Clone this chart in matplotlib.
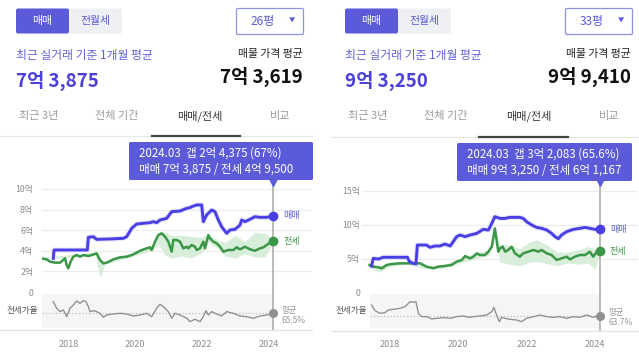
import matplotlib
matplotlib.use('Agg')
import matplotlib.pyplot as plt
import matplotlib.transforms as mtransforms
from matplotlib.patches import FancyBboxPatch

plt.rcParams['font.family'] = ['Noto Sans CJK KR', 'DejaVu Sans']

W, H = 639, 355

# ---------------- Left panel data (26평) ----------------
L_area = '26평'
L_recent = '7억 3,875'
L_listing = '7억 3,619'
L_tip1 = '2024.03  갭 2억 4,375 (67%)'
L_tip2 = '매매 7억 3,875 / 전세 4억 9,500'
L_avg_ratio = 65.5
L_current = 2024.15

L_sale_years = [2017.55, 2017.57, 2018.57, 2018.60, 2018.75, 2018.85, 2019.25, 2019.65, 2019.75, 2019.90,
                2020.05, 2020.25, 2020.45, 2020.55, 2020.65, 2020.75, 2020.95, 2021.10, 2021.35, 2021.55,
                2021.65, 2021.70, 2021.85, 2022.00, 2022.05, 2022.15, 2022.30, 2022.40, 2022.50, 2022.60,
                2022.75, 2022.85, 2023.00, 2023.15, 2023.20, 2023.30, 2023.45, 2023.60, 2023.75, 2023.95, 2024.15]
L_sale = [3.27, 4.08, 4.08, 5.31, 5.37, 5.11, 5.15, 5.21, 5.37, 6.18,
          6.60, 6.67, 6.73, 6.83, 6.73, 6.99, 7.15, 7.80, 7.86, 8.12,
          8.19, 8.28, 8.45, 8.45, 6.83, 7.48, 7.96, 7.80, 6.99, 6.34,
          5.70, 6.02, 6.08, 6.50, 6.99, 6.83, 7.06, 7.31, 7.25, 7.25, 7.3875]

L_rent_years = [2017.20, 2017.35, 2017.45, 2017.60, 2017.75, 2017.85, 2017.90, 2017.95, 2018.00, 2018.07,
                2018.15, 2018.25, 2018.35, 2018.45, 2018.60, 2018.70, 2018.85, 2018.95, 2019.05, 2019.15,
                2019.35, 2019.55, 2019.75, 2019.90, 2020.05, 2020.15, 2020.35, 2020.45, 2020.50, 2020.60,
                2020.70, 2020.80, 2020.90, 2021.00, 2021.10, 2021.15, 2021.25, 2021.35, 2021.45, 2021.55,
                2021.60, 2021.70, 2021.80, 2021.85, 2021.95, 2022.05, 2022.10, 2022.20, 2022.25, 2022.35,
                2022.45, 2022.55, 2022.65, 2022.80, 2022.95, 2023.05, 2023.15, 2023.30, 2023.45, 2023.60,
                2023.75, 2023.85, 2023.95, 2024.05, 2024.15]
L_rent = [3.27, 3.17, 2.95, 2.85, 2.85, 3.11, 3.27, 2.62, 2.30, 2.95,
          3.43, 3.59, 3.43, 3.59, 3.50, 3.59, 3.75, 3.11, 2.78, 2.85,
          3.17, 3.37, 3.43, 3.59, 3.82, 4.01, 4.24, 4.34, 4.08, 4.89,
          5.53, 5.70, 5.37, 4.89, 3.92, 5.05, 5.05, 4.89, 4.24, 4.40,
          4.24, 4.56, 4.40, 4.08, 4.24, 4.89, 4.24, 5.53, 5.21, 4.89,
          4.72, 4.40, 3.92, 4.08, 4.08, 4.34, 4.14, 4.40, 4.14, 4.01,
          4.24, 4.34, 4.56, 4.79, 4.95]

L_band_years = [2017.20, 2018.80, 2018.95, 2019.10, 2020.50, 2020.70, 2020.90, 2021.10, 2021.40, 2021.70,
                2022.00, 2022.20, 2022.50, 2022.70, 2023.00, 2023.30, 2023.60, 2023.90, 2024.15]
L_band_lo = [3.17, 3.60, 1.42, 2.70, 4.00, 4.60, 3.60, 3.30, 3.50, 3.30,
             3.80, 4.80, 4.20, 3.50, 3.30, 3.70, 3.40, 3.40, 4.90]
L_band_hi = [3.37, 3.85, 3.20, 2.95, 4.40, 5.70, 5.80, 5.50, 5.50, 5.40,
             5.30, 5.60, 5.00, 4.80, 5.50, 4.90, 5.80, 5.70, 5.00]

L_ratio_years = [2017.55, 2017.65, 2017.75, 2017.85, 2017.95, 2018.05, 2018.15, 2018.25, 2018.35, 2018.45,
                 2018.53, 2018.60, 2018.65, 2018.75, 2018.85, 2018.95, 2019.05, 2019.15, 2019.35, 2019.55,
                 2019.75, 2019.95, 2020.15, 2020.35, 2020.50, 2020.65, 2020.75, 2020.85, 2021.00, 2021.10,
                 2021.20, 2021.35, 2021.55, 2021.65, 2021.80, 2021.95, 2022.05, 2022.13, 2022.20, 2022.30,
                 2022.45, 2022.60, 2022.75, 2022.95, 2023.15, 2023.35, 2023.55, 2023.75, 2023.95, 2024.15]
L_ratio = [91.2, 76.5, 69.2, 72.9, 58.1, 76.5, 83.9, 92.7, 87.6, 93.4,
           91.2, 80.2, 69.2, 71.4, 69.2, 65.5, 56.7, 61.8, 64.0, 65.5,
           64.0, 59.6, 61.8, 65.5, 58.1, 76.5, 85.4, 80.2, 69.2, 54.5,
           65.5, 61.8, 54.5, 47.1, 52.3, 47.1, 58.1, 71.4, 61.8, 69.2,
           64.0, 59.6, 69.2, 65.5, 59.6, 58.1, 54.5, 59.6, 61.8, 65.5]

# ---------------- Right panel data (33평) ----------------
R_area = '33평'
R_recent = '9억 3,250'
R_listing = '9억 9,410'
R_tip1 = '2024.03  갭 3억 2,083 (65.6%)'
R_tip2 = '매매 9억 3,250 / 전세 6억 1,167'
R_avg_ratio = 63.7
R_current = 2024.15

R_sale_years = [2017.46, 2017.51, 2017.66, 2017.80, 2018.51, 2018.57, 2018.68, 2018.76, 2018.80, 2019.07,
                2019.17, 2019.32, 2019.46, 2019.61, 2019.76, 2019.85, 2019.95, 2020.05, 2020.20, 2020.34,
                2020.54, 2020.73, 2020.88, 2020.98, 2021.07, 2021.22, 2021.37, 2021.51, 2021.66, 2021.80,
                2021.90, 2022.00, 2022.15, 2022.29, 2022.44, 2022.59, 2022.73, 2022.83, 2022.93, 2023.02,
                2023.17, 2023.37, 2023.56, 2023.71, 2023.85, 2024.00, 2024.15]
R_sale = [3.96, 5.08, 4.98, 5.23, 5.23, 4.59, 4.35, 4.25, 7.03, 7.03,
          6.69, 6.89, 6.89, 7.18, 6.89, 7.52, 8.26, 8.50, 8.26, 8.50,
          8.74, 9.33, 9.23, 10.21, 11.19, 10.94, 10.94, 11.09, 11.09, 11.09,
          10.94, 10.45, 9.97, 9.62, 9.48, 9.23, 8.74, 8.26, 7.96, 8.50,
          8.99, 9.33, 9.48, 9.62, 9.48, 9.33, 9.325]

R_rent_years = [2017.40, 2017.51, 2017.66, 2017.76, 2017.90, 2018.05, 2018.29, 2018.59, 2018.88, 2019.07,
                2019.27, 2019.41, 2019.61, 2019.80, 2019.95, 2020.10, 2020.20, 2020.34, 2020.44, 2020.54,
                2020.63, 2020.78, 2020.88, 2020.98, 2021.07, 2021.12, 2021.17, 2021.22, 2021.30, 2021.37,
                2021.46, 2021.56, 2021.66, 2021.80, 2021.90, 2022.05, 2022.20, 2022.34, 2022.44, 2022.59,
                2022.73, 2022.88, 2023.02, 2023.17, 2023.27, 2023.41, 2023.56, 2023.71, 2023.85, 2023.95,
                2024.05, 2024.15]
R_rent = [4.10, 3.86, 3.76, 3.62, 4.10, 4.25, 4.35, 4.35, 4.35, 3.86,
          3.62, 3.86, 3.96, 4.10, 4.59, 4.84, 5.42, 5.08, 5.32, 5.81,
          5.57, 5.57, 6.06, 6.79, 9.48, 7.77, 6.06, 6.55, 6.79, 6.06,
          6.30, 6.79, 5.81, 5.32, 5.81, 6.06, 6.30, 6.06, 6.30, 5.81,
          5.57, 4.84, 5.08, 5.32, 4.93, 5.32, 5.57, 5.57, 6.06, 5.32,
          6.06, 6.12]

R_band_years = [2017.40, 2017.70, 2018.00, 2018.50, 2019.00, 2019.50, 2020.00, 2020.50, 2020.90, 2021.07,
                2021.20, 2021.50, 2021.80, 2022.10, 2022.30, 2022.60, 2022.90, 2023.20, 2023.50, 2023.80,
                2024.00, 2024.15]
R_band_lo = [3.70, 3.10, 3.90, 4.20, 3.60, 3.60, 4.30, 5.00, 5.50, 8.50,
             4.60, 4.20, 4.00, 4.50, 4.60, 4.30, 4.00, 4.40, 4.20, 4.40,
             3.50, 6.00]
R_band_hi = [4.20, 4.00, 4.40, 4.50, 4.00, 4.10, 4.90, 5.90, 6.30, 9.60,
             7.20, 7.00, 6.50, 7.50, 7.80, 7.00, 6.00, 6.00, 6.30, 6.80,
             6.50, 6.20]

R_ratio_years = [2017.46, 2017.56, 2017.71, 2017.85, 2017.95, 2018.10, 2018.29, 2018.44, 2018.54, 2018.59,
                 2018.68, 2018.76, 2018.83, 2018.93, 2019.07, 2019.22, 2019.37, 2019.56, 2019.76, 2019.95,
                 2020.15, 2020.29, 2020.44, 2020.63, 2020.83, 2020.98, 2021.04, 2021.12, 2021.20, 2021.27,
                 2021.37, 2021.51, 2021.71, 2021.85, 2022.00, 2022.20, 2022.39, 2022.59, 2022.78, 2022.98,
                 2023.17, 2023.37, 2023.56, 2023.76, 2023.95, 2024.15]
R_ratio = [91.5, 76.7, 69.8, 71.5, 78.5, 80.2, 82.8, 87.2, 95.9, 100.2,
           98.5, 100.2, 69.8, 61.1, 61.1, 55.0, 56.7, 58.5, 56.7, 61.1,
           62.8, 59.4, 61.1, 62.8, 65.4, 74.1, 85.4, 65.4, 48.0, 59.4,
           56.7, 54.1, 52.4, 48.0, 56.7, 61.1, 65.4, 61.1, 59.4, 61.1,
           56.7, 61.1, 59.4, 65.4, 59.4, 65.6]

year_ticks = [2018, 2020, 2022, 2024]
L_yticks = [0, 2, 4, 6, 8, 10]
L_ylabels = ['0', '2억', '4억', '6억', '8억', '10억']
R_yticks = [0, 5, 10, 15]
R_ylabels = ['0', '5억', '10억', '15억']

# ---------------- styles ----------------
C_MAIN = '#5b5bd9'
C_SALE = '#4a3fe3'
C_SALE_GLOW = '#e6e5fb'
C_RENT = '#3c9648'
C_BAND = '#d8eedb'
C_GRAY = '#8e8e8e'
C_TICK = '#8c8c8c'

fig = plt.figure(figsize=(W / 100, H / 100), dpi=100)
fig.patch.set_facecolor('white')


def px_axes(x0, y0, x1, y1, z=1):
    return fig.add_axes([x0 / W, 1 - y1 / H, (x1 - x0) / W, (y1 - y0) / H], zorder=z)


ui = px_axes(0, 0, W, H, z=10)
ui.set_xlim(0, W)
ui.set_ylim(H, 0)
ui.axis('off')
ui.patch.set_alpha(0)


def header(ox, area, recent, listing, rx):
    # toggle
    ui.add_patch(FancyBboxPatch((ox + 16, 8.5), 106, 25, boxstyle='round,pad=0,rounding_size=2',
                                fc='#eef0f3', ec='none'))
    ui.add_patch(FancyBboxPatch((ox + 16, 8.5), 53, 25, boxstyle='round,pad=0,rounding_size=2',
                                fc=C_MAIN, ec='none'))
    ui.text(ox + 42, 21, '매매', color='white', fontsize=7.8, ha='center', va='center')
    ui.text(ox + 95, 21, '전월세', color=C_MAIN, fontsize=7.8, ha='center', va='center')
    # dropdown
    ui.add_patch(FancyBboxPatch((ox + 236.5, 8.5), 67, 26, boxstyle='round,pad=0,rounding_size=1.5',
                                fc='white', ec='#8f92e6', lw=0.9))
    ui.text(ox + 263, 21.5, area, color=C_MAIN, fontsize=8.6, ha='center', va='center')
    ui.text(ox + 292, 21, '▼', color=C_MAIN, fontsize=4.5, ha='center', va='center')
    # summary
    ui.text(ox + 16, 56, '최근 실거래 기준 1개월 평균', color='#6262dc', fontsize=8.5, ha='left', va='center')
    ui.text(ox + 16, 80.5, recent, color='#4b40d8', fontsize=13.5, fontweight='bold', ha='left', va='center')
    ui.text(rx, 54.5, '매물 가격 평균', color='#222222', fontsize=7.8, ha='right', va='center')
    ui.text(rx, 77, listing, color='#111111', fontsize=13.5, fontweight='bold', ha='right', va='center')
    # tabs
    tabs = ['최근 3년', '전체 기간', '매매/전세', '비교']
    tx = [39, 117, 200, 280]
    for t, x in zip(tabs, tx):
        active = t == '매매/전세'
        ui.text(ox + x, 116.5, t, color='#333333' if active else '#9a9a9a', fontsize=8,
                ha='center', va='center', fontweight='medium' if active else 'normal')


def chart(cfg):
    x0, x1 = cfg['px']
    ax = px_axes(x0, 183, x1, 294, z=2)
    ar = px_axes(x0, 294, x1, 328.3, z=2)
    for a in (ax, ar):
        a.set_xlim(*cfg['xlim'])
        for s in a.spines.values():
            s.set_visible(False)
        a.tick_params(length=0)
        a.patch.set_alpha(0)
    ax.set_ylim(*cfg['ylim'])
    ar.set_ylim(*cfg['rlim'])
    cur = cfg['current']

    # grid
    for v in cfg['yticks'][1:]:
        ax.axhline(v, color='#ececec', lw=0.8, zorder=0)
    ax.set_yticks(cfg['yticks'])
    ax.set_yticklabels(cfg['ylabels'], fontsize=6.3, color=C_TICK)
    ax.tick_params(axis='y', pad=cfg['pad'])
    ax.set_xticks([])

    # series
    ax.fill_between(cfg['band_x'], cfg['band_lo'], cfg['band_hi'], color=C_BAND, lw=0, zorder=1)
    ax.plot(cfg['sale_x'], cfg['sale'], color=C_SALE_GLOW, lw=3.6, solid_joinstyle='round', zorder=2)
    ax.plot(cfg['rent_x'], cfg['rent'], color=C_RENT, lw=1.8, solid_joinstyle='round', zorder=3)
    ax.plot(cfg['sale_x'], cfg['sale'], color=C_SALE, lw=2.1, solid_joinstyle='round', zorder=4)
    ax.axvline(cur, color='#a8a8a8', lw=1.1, zorder=5)
    ax.plot([cur], [cfg['sale'][-1]], 'o', ms=6, color=C_SALE, zorder=6)
    ax.plot([cur], [cfg['rent'][-1]], 'o', ms=6, color=C_RENT, zorder=6)
    ax.annotate('매매', (cur, cfg['sale'][-1]), xytext=(7, 0), textcoords='offset points',
                fontsize=6.5, color='#5b5bd9', va='center', ha='left', annotation_clip=False)
    ax.annotate('전세', (cur, cfg['rent'][-1]), xytext=(7, 0), textcoords='offset points',
                fontsize=6.5, color=C_RENT, va='center', ha='left', annotation_clip=False)
    trans = mtransforms.blended_transform_factory(ax.transData, ax.transAxes)
    ax.plot([cur], [1.022], marker='v', ms=7, color=C_MAIN, transform=trans, clip_on=False, zorder=7)

    # ratio strip
    ar.axvspan(cfg['rent_x'][0], cur, color='#f5f5f5', lw=0, zorder=0)
    ar.plot([cfg['rent_x'][0], cur], [cfg['avg'], cfg['avg']], color='#b5b5b5', lw=0.8,
            linestyle=(0, (1, 2)), zorder=1)
    ar.plot(cfg['ratio_x'], cfg['ratio'], color=C_GRAY, lw=0.95, zorder=2)
    ar.axvline(cur, ymin=-0.06, ymax=1, color='#a8a8a8', lw=1.1, zorder=3, clip_on=False)
    ar.plot([cur], [cfg['avg']], 'o', ms=5.5, color='#8f8f8f', zorder=4)
    ar.annotate('평균\n' + f"{cfg['avg']}%", (cur, cfg['avg']), xytext=(6, -1.5), textcoords='offset points',
                fontsize=6, color='#999999', va='center', ha='left', linespacing=1.15, annotation_clip=False)
    ar.set_yticks([])
    ar.set_xticks(year_ticks)
    ar.set_xticklabels([str(y) for y in year_ticks], fontsize=6.5, color=C_TICK)
    ar.tick_params(axis='x', pad=8.5)


header(0, L_area, L_recent, L_listing, 303)
header(329, R_area, R_recent, R_listing, 631)

chart(dict(px=(42, 312), xlim=(2017.21, 2025.31), ylim=(-0.19, 10.58), rlim=(32.4, 108.1),
           yticks=L_yticks, ylabels=L_ylabels, pad=6.5, current=L_current, avg=L_avg_ratio,
           sale_x=L_sale_years, sale=L_sale, rent_x=L_rent_years, rent=L_rent,
           band_x=L_band_years, band_lo=L_band_lo, band_hi=L_band_hi,
           ratio_x=L_ratio_years, ratio=L_ratio))
chart(dict(px=(362, 638), xlim=(2017.18, 2025.26), ylim=(-0.15, 16.13), rlim=(30.7, 120.2),
           yticks=R_yticks, ylabels=R_ylabels, pad=1.5, current=R_current, avg=R_avg_ratio,
           sale_x=R_sale_years, sale=R_sale, rent_x=R_rent_years, rent=R_rent,
           band_x=R_band_years, band_lo=R_band_lo, band_hi=R_band_hi,
           ratio_x=R_ratio_years, ratio=R_ratio))

# separators / underline / baselines
ui.plot([0, 312], [136, 136], color='#e6e6e6', lw=0.9)
ui.plot([152, 240], [136, 136], color='#444444', lw=1.6)
ui.plot([332, 639], [137, 137], color='#e6e6e6', lw=0.9)
ui.plot([479, 568], [137, 137], color='#444444', lw=1.6)
ui.plot([0, 312], [330, 330], color='#e3e3e3', lw=0.9)
ui.plot([332, 639], [331, 331], color='#e3e3e3', lw=0.9)

# ratio labels
ui.text(38, 310, '전세가율', fontsize=6.2, color='#555555', ha='right', va='center')
ui.text(367, 311, '전세가율', fontsize=6.2, color='#555555', ha='right', va='center')

# tooltips
for (bx0, by0, bx1, by1, l1, l2) in [(129, 142, 313, 180, L_tip1, L_tip2),
                                      (457, 143, 632, 181, R_tip1, R_tip2)]:
    ui.add_patch(FancyBboxPatch((bx0, by0), bx1 - bx0, by1 - by0, boxstyle='round,pad=0,rounding_size=1.5',
                                fc=C_MAIN, ec='none'))
    ui.text(bx0 + 10, by0 + 11, l1, color='white', fontsize=8.3, ha='left', va='center')
    ui.text(bx0 + 10, by0 + 27.5, l2, color='white', fontsize=8.3, ha='left', va='center')

fig.savefig('out.png', dpi=100, facecolor='white')
